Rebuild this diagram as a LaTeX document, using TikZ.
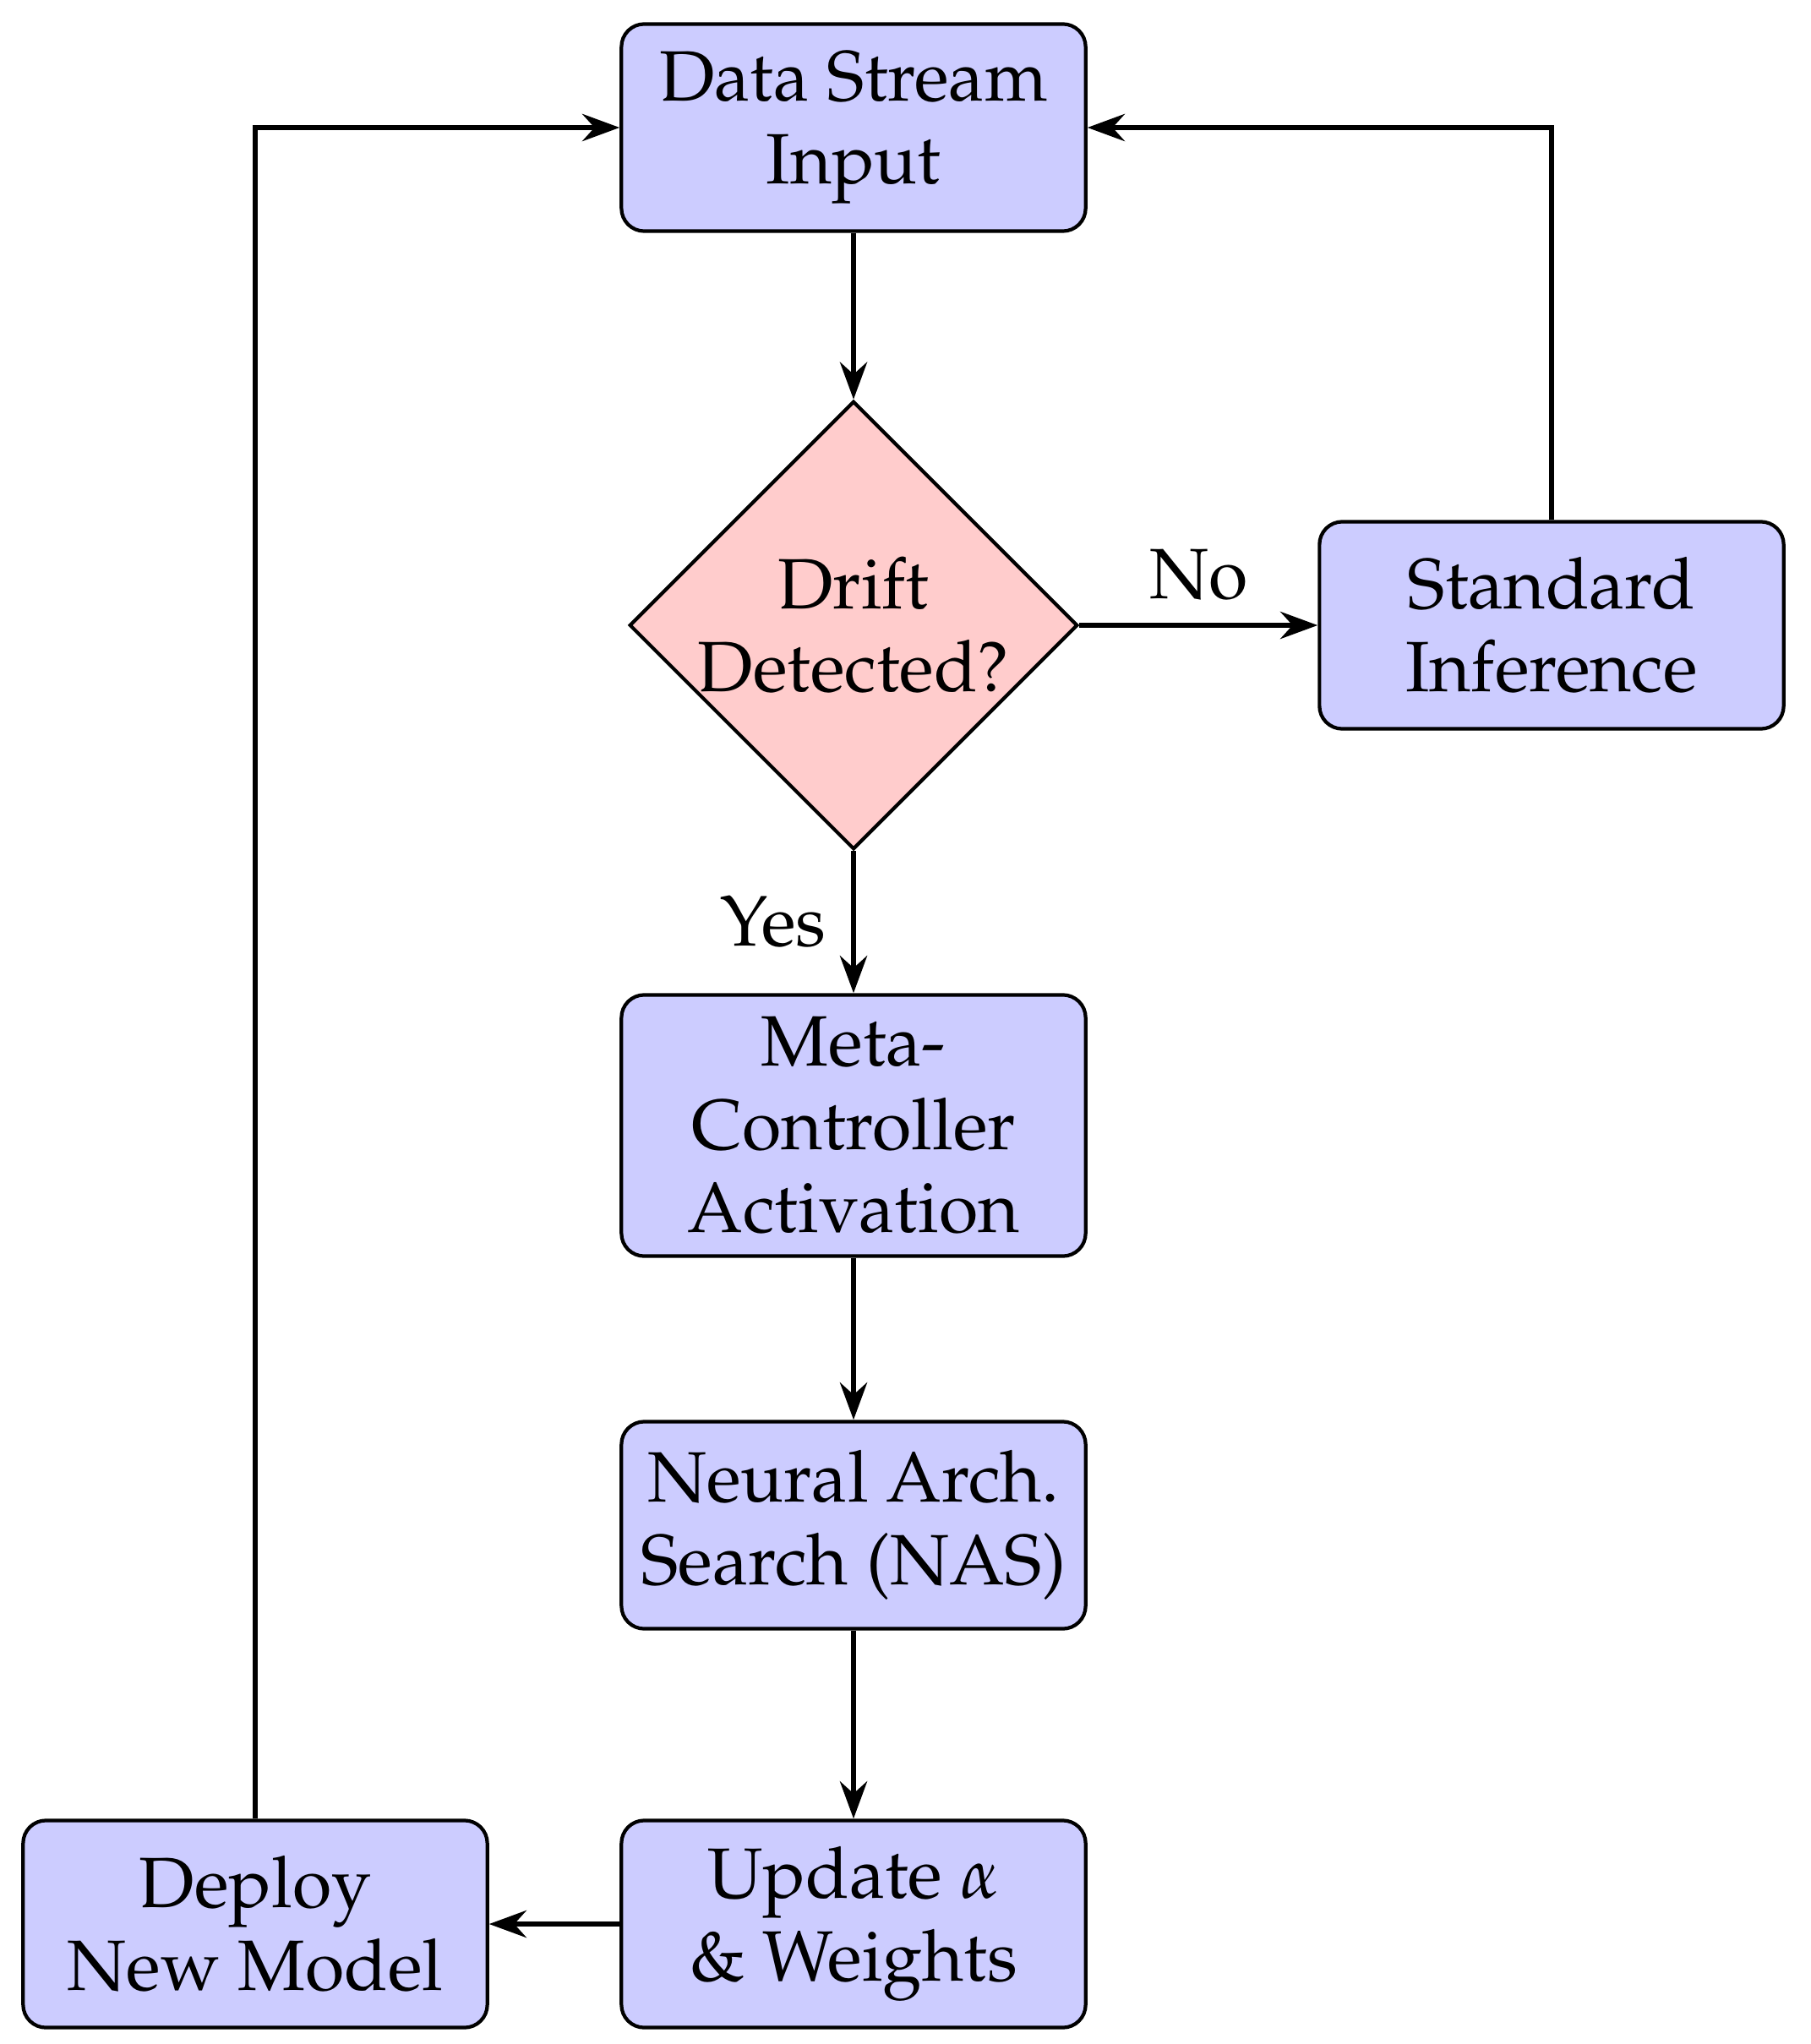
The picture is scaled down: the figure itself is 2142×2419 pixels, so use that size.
\documentclass[tikz,border=0pt]{standalone}
\usepackage[T1]{fontenc}
\usepackage{mathpazo}
\usetikzlibrary{arrows.meta,shapes.geometric}
\begin{document}
\begin{tikzpicture}[x=0.01cm,y=-0.01cm,
  txt/.style={font=\fontsize{24}{28}\selectfont},
  box/.style={txt, draw, line width=1.2pt, rounded corners=0.27cm, fill=blue!20,
    minimum width=5.49cm, minimum height=2.45cm, align=center, inner sep=0pt},
  decision/.style={txt, diamond, aspect=1, draw, line width=1.2pt, fill=red!20,
    minimum width=5.30cm, minimum height=5.30cm, inner sep=0pt, align=center},
  arr/.style={line width=1.9pt, -{Stealth[length=4.4mm,width=3.2mm]}},
  lbl/.style={txt}]
\useasboundingbox (0,0) rectangle (2142,2419);
\node[box] (data) at (1010,151) {Data Stream\\Input};
\node[decision] (drift) at (1010,740) {Drift\\Detected?};
\node[box] (std) at (1836,740) {Standard\\Inference};
\node[box, minimum height=3.09cm] (meta) at (1010,1332) {Meta-\\Controller\\Activation};
\node[box] (nas) at (1010,1805) {Neural Arch.\\Search (NAS)};
\node[box] (upd) at (1010,2277) {Update $\alpha$\\\& Weights};
\node[box] (dep) at (302,2277) {Deploy\\New Model};
\draw[arr] (data) -- (drift);
\draw[arr] (drift) -- node[lbl, above, inner sep=0.26cm] (no) {No} (std);
\draw[arr] (drift) -- node[lbl, left, inner sep=0.29cm] (yes) {Yes} (meta);
\draw[arr] (meta) -- (nas);
\draw[arr] (nas) -- (upd);
\draw[arr] (upd) -- (dep);
\draw[arr] (dep.north) |- (data.west);
\draw[arr] (std.north) |- (data.east);
\end{tikzpicture}
\end{document}
